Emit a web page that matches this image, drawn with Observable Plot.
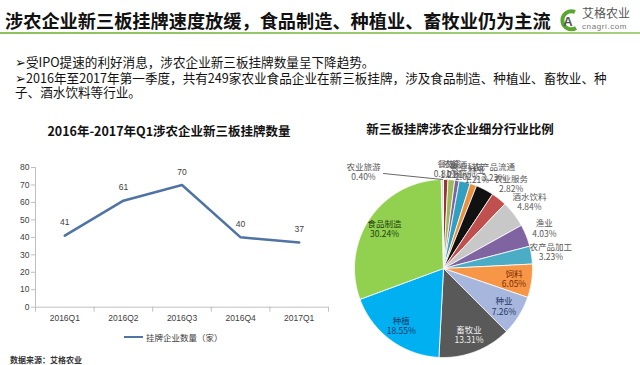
<!DOCTYPE html>
<html><head><meta charset="utf-8">
<script src="https://cdn.jsdelivr.net/npm/d3@7"></script>
<script src="https://cdn.jsdelivr.net/npm/@observablehq/plot@0.6"></script>
<style>
body{margin:0;width:640px;height:365px;position:relative;overflow:hidden;background:#fff;font-family:"Noto Sans CJK SC","Noto Sans",sans-serif;}
.abs{position:absolute;white-space:nowrap;}
#title{left:5px;top:8px;font-size:18.2px;font-weight:bold;color:#111;line-height:24px;}
#rule{left:0;top:32px;width:640px;height:2px;background:linear-gradient(90deg,#8dc05c,#a6cf7e);}
.bul{left:15px;font-size:12.6px;line-height:15px;color:#111;}
.ct{font-size:12.5px;font-weight:bold;color:#111;line-height:16px;transform:translateX(-50%);}
#legend{left:124px;top:330px;font-size:8.5px;color:#404040;line-height:14px;display:flex;align-items:center;}
#legend span.sw{display:inline-block;width:19px;height:2.5px;background:#4f73a3;margin-right:3px;}
#source{left:10px;top:354px;font-size:8px;font-weight:bold;color:#333;line-height:12px;}
#lineChart{left:0;top:150px;}
#pieChart{left:320px;top:140px;}
svg{overflow:visible;}
</style></head>
<body>
<div id="title" class="abs">涉农企业新三板挂牌速度放缓，食品制造、种植业、畜牧业仍为主流</div>
<svg class="abs" style="left:555px;top:4px" width="85" height="30">
  <path d="M20,8 A9,9 0 1,0 21,24" fill="none" stroke="#5aa62f" stroke-width="4"/>
  <text x="13" y="22" font-size="13" font-weight="bold" fill="#555" text-anchor="middle" font-family="Liberation Sans">A</text>
  <text x="27" y="14" font-size="12" fill="#555" font-family="Noto Sans CJK SC">艾格农业</text>
  <text x="27" y="25" font-size="8" fill="#777" font-family="Liberation Sans" letter-spacing="0.6">cnagri.com</text>
</svg>
<div id="rule" class="abs"></div>
<div class="abs bul" style="top:54px">➢受IPO提速的利好消息，涉农企业新三板挂牌数量呈下降趋势。</div>
<div class="abs bul" style="top:69.5px">➢2016年至2017年第一季度，共有249家农业食品企业在新三板挂牌，涉及食品制造、种植业、畜牧业、种</div>
<div class="abs bul" style="left:15px;top:83.5px">子、酒水饮料等行业。</div>
<div class="abs ct" style="left:169px;top:123px">2016年-2017年Q1涉农企业新三板挂牌数量</div>
<div class="abs ct" style="left:460px;top:121px">新三板挂牌涉农企业细分行业比例</div>
<div id="lineChart" class="abs"></div>
<div id="pieChart" class="abs"></div>
<div id="legend" class="abs"><span class="sw"></span>挂牌企业数量（家）</div>
<div id="source" class="abs">数据来源：艾格农业</div>
<script>
// ---- Line chart data ----
const quarters = ["2016Q1","2016Q2","2016Q3","2016Q4","2017Q1"];
const listings = [41, 61, 70, 40, 37];
const yTicks = [0,10,20,30,40,50,60,70,80];

// ---- Pie chart data (clockwise from 12 o'clock) ----
const sliceNames = ["餐饮","农资","酿酒","农业科技","林业","农产品流通","农业服务","酒水饮料","渔业","农产品加工","饲料","种业","畜牧业","种植","食品制造","农业旅游"];
const slicePct = [0.81, 1.21, 0.81, 2.02, 1.21, 3.23, 2.82, 4.84, 4.03, 3.23, 6.05, 7.26, 13.31, 18.55, 30.24, 0.40];

// styles
const sliceColors = ["#953735","#9bbb59","#8064a2","#31a0c0","#e8903e","#111111","#c0504d","#c8c8c8","#8064a2","#4bacc6","#f79646","#a7b6dc","#595959","#00b0f0","#92d050","#d9d9d9"];
const insideLabelColor = {"食品制造":"#23410c","种植":"#0c3566","畜牧业":"#eeeeee","种业":"#1f3864","饲料":"#7a2a05"};

const lineFont = "Liberation Sans, Noto Sans CJK SC, sans-serif";
const rows = quarters.map((q,i)=>({q, i, x: i+0.5, v: listings[i]}));

const line = Plot.plot({
  width: 328, height: 180,
  marginTop: 17, marginBottom: 23.3, marginLeft: 35, marginRight: 0,
  style: {fontFamily: lineFont, fontSize: "8.5px", color: "#404040", background: "transparent"},
  x: {domain: [0,5], axis: null},
  y: {domain: [0,80], axis: null},
  marks: [
    Plot.ruleX([0], {y1: 0, y2: 80, stroke: "#bfbfbf"}),
    Plot.ruleY([0], {stroke: "#bfbfbf"}),
    Plot.axisY({ticks: yTicks, tickSize: 4, tickPadding: 2, stroke: "#bfbfbf", fill: "#404040", fontSize: 8.5, label: null}),
    Plot.axisX({ticks: [0,1,2,3,4,5], tickSize: 5, tickFormat: () => "", stroke: "#bfbfbf", label: null}),
    Plot.axisX({ticks: rows.map(d=>d.x), tickSize: 0, tickPadding: 8, tickFormat: (d) => quarters[Math.floor(d)], fill: "#404040", fontSize: 8.5, label: null}),
    Plot.line(rows, {x: "x", y: "v", stroke: "#4f73a3", strokeWidth: 2.5}),
    Plot.text(rows, {x: "x", y: "v", text: d => String(d.v), dy: -13, fill: "#404040", fontSize: 8.5})
  ]
});
document.getElementById("lineChart").appendChild(line);

// ---- Pie geometry from data ----
const total = d3.sum(slicePct);
let acc = 0;
const slices = sliceNames.map((name,i)=>{
  const a0 = acc/total*2*Math.PI; acc += slicePct[i];
  const a1 = acc/total*2*Math.PI;
  return {name, pct: slicePct[i], a0, a1, mid: (a0+a1)/2};
});
const R = 89;
const poly = [];
for (const s of slices) {
  poly.push({name: s.name, x: 0, y: 0});
  const n = Math.max(2, Math.ceil((s.a1-s.a0)/0.01));
  for (let k=0;k<=n;k++){ const a = s.a0+(s.a1-s.a0)*k/n; poly.push({name: s.name, x: R*Math.sin(a), y: -R*Math.cos(a)}); }
  poly.push({name: s.name, x: 0, y: 0});
}
const special = "农业旅游";
const labels = slices.map(s=>{
  const inside = s.pct > 5;
  const k = inside ? 0.8 : (s.pct < 2.5 && s.mid < 0.5 ? 1.12 : 1.22);
  let x = R*k*Math.sin(s.mid), y = -R*k*Math.cos(s.mid);
  if (s.name === special) { x = -80; y = -R - 8; }
  return {name: s.name, x, y, text: s.name + "\n" + s.pct.toFixed(2) + "%", fill: inside ? insideLabelColor[s.name] : "#595959"};
});
const sp = slices.find(s=>s.name===special);
const leader = [
  {x: -60, y: -R - 6},
  {x: R*Math.sin(sp.mid), y: -R*Math.cos(sp.mid)}
];

const pie = Plot.plot({
  width: 320, height: 225, margin: 0,
  style: {fontFamily: "Noto Sans CJK SC, sans-serif", background: "transparent"},
  x: {domain: [-123, 197], range: [0, 320], axis: null},
  y: {domain: [-128, 97], range: [0, 225], axis: null},
  color: {domain: sliceNames, range: sliceColors},
  marks: [
    Plot.line(poly, {x: "x", y: "y", z: "name", fill: "name", stroke: "white", strokeWidth: 0.8}),
    Plot.line(leader, {x: "x", y: "y", stroke: "#404040", strokeWidth: 0.8}),
    Plot.text(labels, {x: "x", y: "y", text: "text", fill: "fill", fontSize: 8.5, lineHeight: 1.2})
  ]
});
document.getElementById("pieChart").appendChild(pie);
</script>
</body></html>
